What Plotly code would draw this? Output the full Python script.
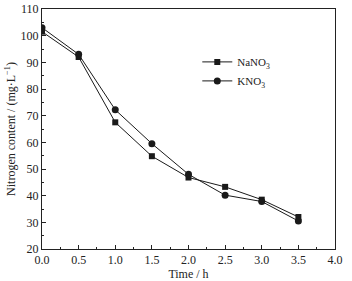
import plotly.graph_objects as go

time_h = [0.0, 0.5, 1.0, 1.5, 2.0, 2.5, 3.0, 3.5]
nano3 = [101.5, 92.0, 67.5, 54.8, 46.8, 43.3, 38.5, 32.0]
kno3 = [103.0, 93.0, 72.2, 59.5, 48.0, 40.2, 37.8, 30.5]
x_ticks = [0.0, 0.5, 1.0, 1.5, 2.0, 2.5, 3.0, 3.5, 4.0]
y_ticks = [20, 30, 40, 50, 60, 70, 80, 90, 100, 110]

font = dict(family="Liberation Serif", size=12, color="#222")

fig = go.Figure()
fig.add_trace(go.Scatter(x=time_h, y=nano3, mode="lines+markers", name="NaNO<sub>3</sub>",
                         line=dict(color="#1a1a1a", width=1),
                         marker=dict(symbol="square", size=6, color="#1a1a1a")))
fig.add_trace(go.Scatter(x=time_h, y=kno3, mode="lines+markers", name="KNO<sub>3</sub>",
                         line=dict(color="#1a1a1a", width=1),
                         marker=dict(symbol="circle", size=7, color="#1a1a1a")))

axis_common = dict(showgrid=False, zeroline=False, showline=True, linecolor="#222", linewidth=1,
                   ticks="inside", ticklen=4, tickcolor="#222", mirror=True, tickfont=font,
                   automargin=False)

fig.update_xaxes(range=[0, 4.0], tickvals=x_ticks, ticktext=[f"{v:.1f}" for v in x_ticks],
                 minor=dict(ticks="inside", ticklen=2, dtick=0.25, tickcolor="#222"),
                 title=dict(text="Time / h", font=font, standoff=2), **axis_common)
fig.update_yaxes(range=[20, 110], tickvals=y_ticks,
                 minor=dict(ticks="inside", ticklen=2, dtick=5, tickcolor="#222"),
                 title=dict(text="Nitrogen content / (mg·L<sup>−1</sup>)", font=font, standoff=2), **axis_common)

fig.update_layout(width=352, height=281, margin=dict(l=42, r=17, t=9, b=32),
                  paper_bgcolor="white", plot_bgcolor="white", font=font,
                  legend=dict(x=0.53, y=0.84, xanchor="left", yanchor="top", bgcolor="rgba(0,0,0,0)",
                              font=dict(family="Liberation Serif", size=11, color="#222"),
                              itemwidth=30, tracegroupgap=4))
fig.write_html("out.html", config={"displayModeBar": False},
               post_script="document.body.style.margin='0';document.body.style.overflow='hidden';")
